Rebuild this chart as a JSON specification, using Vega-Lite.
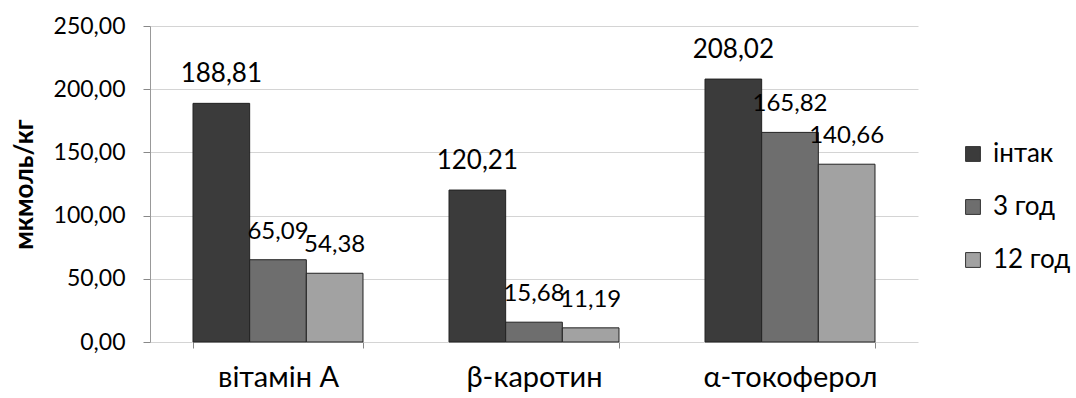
{
  "$schema": "https://vega.github.io/schema/vega-lite/v6.json",
  "width": 768,
  "height": 316,
  "autosize": {"type": "none"},
  "padding": {"left": 150, "top": 26, "right": 158, "bottom": 56},
  "background": "white",
  "config": {
    "locale": {"number": {"decimal": ",", "thousands": " ", "grouping": [3], "currency": ["", ""]}},
    "font": "Lato",
    "view": {"stroke": null}
  },
  "data": {
    "values": [
      {"cat": "вітамін А", "group": "інтак", "value": 188.81},
      {"cat": "вітамін А", "group": "3 год", "value": 65.09},
      {"cat": "вітамін А", "group": "12 год", "value": 54.38},
      {"cat": "β-каротин", "group": "інтак", "value": 120.21},
      {"cat": "β-каротин", "group": "3 год", "value": 15.68},
      {"cat": "β-каротин", "group": "12 год", "value": 11.19},
      {"cat": "α-токоферол", "group": "інтак", "value": 208.02},
      {"cat": "α-токоферол", "group": "3 год", "value": 165.82},
      {"cat": "α-токоферол", "group": "12 год", "value": 140.66}
    ]
  },
  "encoding": {
    "x": {
      "field": "cat", "type": "nominal", "sort": null,
      "scale": {"paddingInner": 0.336, "paddingOuter": 0.168},
      "axis": {
        "title": null, "labelAngle": 0, "labelFontSize": 29, "labelColor": "#000",
        "labelPadding": 15, "domain": false, "tickBand": "extent", "tickSize": 6,
        "tickColor": "#888", "grid": false
      }
    },
    "xOffset": {"field": "group", "type": "nominal", "sort": ["інтак", "3 год", "12 год"]},
    "y": {
      "field": "value", "type": "quantitative",
      "scale": {"domain": [0, 250]},
      "axis": {
        "title": "мкмоль/кг", "titleFontSize": 26, "titleFontWeight": "bold", "titleColor": "#000",
        "titlePadding": 16, "values": [0, 50, 100, 150, 200, 250], "format": ".2f",
        "labelFontSize": 23, "labelColor": "#000", "labelPadding": 18, "tickSize": 7,
        "tickColor": "#888", "domainColor": "#999", "gridColor": "#d4d4d4"
      }
    }
  },
  "layer": [
    {
      "mark": {"type": "bar", "stroke": "#222", "strokeWidth": 1},
      "encoding": {
        "color": {
          "field": "group", "type": "nominal", "sort": ["інтак", "3 год", "12 год"],
          "scale": {"domain": ["інтак", "3 год", "12 год"], "range": ["#3b3b3b", "#6e6e6e", "#a2a2a2"]},
          "legend": {
            "title": null, "orient": "none", "legendX": 810, "legendY": 115,
            "symbolType": "square", "symbolSize": 220, "symbolStrokeColor": "#333",
            "symbolStrokeWidth": 1, "labelFontSize": 26, "labelColor": "#000",
            "rowPadding": 27, "padding": 0, "labelOffset": 7
          }
        }
      }
    },
    {
      "mark": {"type": "text", "baseline": "alphabetic", "dy": -21, "fontSize": 24, "color": "#000"},
      "encoding": {
        "text": {"field": "value", "type": "quantitative", "format": ".2f"},
        "size": {"condition": {"test": "datum.group === 'інтак'", "value": 26}, "value": 24}
      }
    }
  ]
}
